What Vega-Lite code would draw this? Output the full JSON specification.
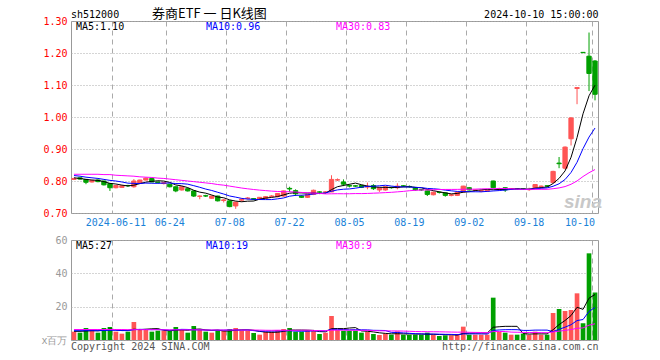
{
  "$schema": "https://vega.github.io/schema/vega-lite/v6.json",
  "background": "white",
  "padding": {"left": 40, "top": 7, "right": 5, "bottom": 0},
  "spacing": 6,
  "config": {
    "view": {"stroke": "#999999", "strokeWidth": 1},
    "font": "DejaVu Sans Mono",
    "axis": {"labelFont": "DejaVu Sans Mono", "labelFontSize": 10, "ticks": false, "domain": false, "title": null, "gridColor": "#aaaaaa", "gridWidth": 1, "labelOverlap": false, "labelBound": false},
    "text": {"font": "DejaVu Sans Mono", "fontSize": 10}
  },
  "data": {"values": [
    {"d":"2024-05-30","o":0.805,"h":0.810,"l":0.803,"c":0.808,"v":5.0,"m5":0.810,"m10":0.817,"m30":0.821,"vm5":5.2,"vm10":5.6,"vm30":6.3},
    {"d":"2024-05-31","o":0.810,"h":0.811,"l":0.804,"c":0.806,"v":4.4,"m5":0.808,"m10":0.815,"m30":0.821,"vm5":5.2,"vm10":5.6,"vm30":6.3},
    {"d":"2024-06-03","o":0.805,"h":0.806,"l":0.790,"c":0.796,"v":7.2,"m5":0.805,"m10":0.812,"m30":0.821,"vm5":5.4,"vm10":5.6,"vm30":6.3},
    {"d":"2024-06-04","o":0.797,"h":0.803,"l":0.795,"c":0.802,"v":6.4,"m5":0.803,"m10":0.810,"m30":0.821,"vm5":5.6,"vm10":5.6,"vm30":6.3},
    {"d":"2024-06-05","o":0.803,"h":0.805,"l":0.796,"c":0.798,"v":4.4,"m5":0.802,"m10":0.808,"m30":0.821,"vm5":5.48,"vm10":5.6,"vm30":6.3},
    {"d":"2024-06-06","o":0.800,"h":0.801,"l":0.786,"c":0.788,"v":7.2,"m5":0.798,"m10":0.805,"m30":0.820,"vm5":5.92,"vm10":5.7,"vm30":6.3},
    {"d":"2024-06-07","o":0.792,"h":0.793,"l":0.769,"c":0.779,"v":7.8,"m5":0.7926,"m10":0.802,"m30":0.820,"vm5":6.6,"vm10":5.8,"vm30":6.3},
    {"d":"2024-06-11","o":0.779,"h":0.787,"l":0.777,"c":0.786,"v":5.0,"m5":0.7906,"m10":0.800,"m30":0.818,"vm5":6.16,"vm10":5.8,"vm30":6.3},
    {"d":"2024-06-12","o":0.780,"h":0.786,"l":0.778,"c":0.785,"v":3.8,"m5":0.7872,"m10":0.797,"m30":0.817,"vm5":5.64,"vm10":5.7,"vm30":6.3},
    {"d":"2024-06-13","o":0.786,"h":0.788,"l":0.782,"c":0.785,"v":5.0,"m5":0.7846,"m10":0.7933,"m30":0.816,"vm5":5.76,"vm10":5.62,"vm30":6.2},
    {"d":"2024-06-14","o":0.782,"h":0.806,"l":0.779,"c":0.800,"v":10.8,"m5":0.787,"m10":0.7925,"m30":0.815,"vm5":6.48,"vm10":6.2,"vm30":6.2},
    {"d":"2024-06-17","o":0.793,"h":0.804,"l":0.791,"c":0.803,"v":6.4,"m5":0.7918,"m10":0.7922,"m30":0.813,"vm5":6.2,"vm10":6.4,"vm30":6.2},
    {"d":"2024-06-18","o":0.803,"h":0.811,"l":0.802,"c":0.809,"v":6.4,"m5":0.7964,"m10":0.7935,"m30":0.812,"vm5":6.48,"vm10":6.32,"vm30":6.2},
    {"d":"2024-06-19","o":0.808,"h":0.810,"l":0.796,"c":0.797,"v":5.0,"m5":0.7988,"m10":0.793,"m30":0.811,"vm5":6.72,"vm10":6.18,"vm30":6.2},
    {"d":"2024-06-20","o":0.797,"h":0.798,"l":0.793,"c":0.795,"v":5.6,"m5":0.8008,"m10":0.7927,"m30":0.809,"vm5":6.84,"vm10":6.3,"vm30":6.2},
    {"d":"2024-06-21","o":0.792,"h":0.797,"l":0.789,"c":0.795,"v":5.4,"m5":0.7998,"m10":0.7934,"m30":0.808,"vm5":5.76,"vm10":6.12,"vm30":6.1},
    {"d":"2024-06-24","o":0.790,"h":0.791,"l":0.780,"c":0.782,"v":5.4,"m5":0.7956,"m10":0.7937,"m30":0.806,"vm5":5.56,"vm10":5.88,"vm30":6.1},
    {"d":"2024-06-25","o":0.782,"h":0.783,"l":0.765,"c":0.769,"v":7.8,"m5":0.7876,"m10":0.792,"m30":0.804,"vm5":5.84,"vm10":6.16,"vm30":6.1},
    {"d":"2024-06-26","o":0.772,"h":0.783,"l":0.770,"c":0.782,"v":6.0,"m5":0.7846,"m10":0.7917,"m30":0.802,"vm5":6.04,"vm10":6.38,"vm30":6.1},
    {"d":"2024-06-27","o":0.776,"h":0.778,"l":0.767,"c":0.769,"v":4.4,"m5":0.7794,"m10":0.7901,"m30":0.800,"vm5":5.8,"vm10":6.32,"vm30":6.1},
    {"d":"2024-06-28","o":0.769,"h":0.770,"l":0.750,"c":0.753,"v":8.4,"m5":0.771,"m10":0.7854,"m30":0.798,"vm5":6.4,"vm10":6.08,"vm30":6.1},
    {"d":"2024-07-01","o":0.752,"h":0.755,"l":0.743,"c":0.753,"v":6.4,"m5":0.7652,"m10":0.7804,"m30":0.796,"vm5":6.6,"vm10":6.08,"vm30":6.1},
    {"d":"2024-07-02","o":0.754,"h":0.757,"l":0.750,"c":0.753,"v":5.0,"m5":0.762,"m10":0.7748,"m30":0.794,"vm5":6.04,"vm10":5.94,"vm30":6.0},
    {"d":"2024-07-03","o":0.746,"h":0.754,"l":0.744,"c":0.753,"v":4.4,"m5":0.7562,"m10":0.7704,"m30":0.792,"vm5":5.72,"vm10":5.88,"vm30":6.0},
    {"d":"2024-07-04","o":0.753,"h":0.754,"l":0.736,"c":0.738,"v":5.6,"m5":0.750,"m10":0.7647,"m30":0.789,"vm5":5.96,"vm10":5.88,"vm30":6.0},
    {"d":"2024-07-05","o":0.739,"h":0.744,"l":0.733,"c":0.741,"v":5.6,"m5":0.7476,"m10":0.7593,"m30":0.787,"vm5":5.4,"vm10":5.9,"vm30":6.0},
    {"d":"2024-07-08","o":0.738,"h":0.739,"l":0.718,"c":0.720,"v":6.6,"m5":0.741,"m10":0.7531,"m30":0.784,"vm5":5.44,"vm10":6.02,"vm30":6.0},
    {"d":"2024-07-09","o":0.722,"h":0.735,"l":0.713,"c":0.734,"v":7.2,"m5":0.7372,"m10":0.7496,"m30":0.781,"vm5":5.88,"vm10":5.96,"vm30":6.0},
    {"d":"2024-07-10","o":0.740,"h":0.746,"l":0.735,"c":0.743,"v":5.6,"m5":0.7352,"m10":0.7457,"m30":0.778,"vm5":6.12,"vm10":5.92,"vm30":6.0},
    {"d":"2024-07-11","o":0.745,"h":0.750,"l":0.742,"c":0.747,"v":5.6,"m5":0.737,"m10":0.7435,"m30":0.7756,"vm5":6.12,"vm10":6.04,"vm30":5.99},
    {"d":"2024-07-12","o":0.745,"h":0.746,"l":0.740,"c":0.743,"v":4.2,"m5":0.7374,"m10":0.7425,"m30":0.7734,"vm5":5.84,"vm10":5.62,"vm30":5.97},
    {"d":"2024-07-15","o":0.743,"h":0.750,"l":0.741,"c":0.749,"v":3.2,"m5":0.7432,"m10":0.7421,"m30":0.7715,"vm5":5.16,"vm10":5.3,"vm30":5.93},
    {"d":"2024-07-16","o":0.746,"h":0.753,"l":0.744,"c":0.751,"v":5.0,"m5":0.7466,"m10":0.7419,"m30":0.770,"vm5":4.72,"vm10":5.3,"vm30":5.85},
    {"d":"2024-07-17","o":0.752,"h":0.756,"l":0.749,"c":0.753,"v":5.0,"m5":0.7486,"m10":0.7419,"m30":0.7684,"vm5":4.6,"vm10":5.36,"vm30":5.81},
    {"d":"2024-07-18","o":0.751,"h":0.762,"l":0.749,"c":0.761,"v":6.0,"m5":0.7514,"m10":0.7442,"m30":0.7672,"vm5":4.68,"vm10":5.4,"vm30":5.86},
    {"d":"2024-07-19","o":0.753,"h":0.770,"l":0.751,"c":0.769,"v":6.6,"m5":0.7566,"m10":0.747,"m30":0.7665,"vm5":5.16,"vm10":5.5,"vm30":5.84},
    {"d":"2024-07-22","o":0.777,"h":0.782,"l":0.766,"c":0.775,"v":7.2,"m5":0.7618,"m10":0.7525,"m30":0.7664,"vm5":5.96,"vm10":5.56,"vm30":5.82},
    {"d":"2024-07-23","o":0.770,"h":0.774,"l":0.753,"c":0.760,"v":5.0,"m5":0.7636,"m10":0.7551,"m30":0.7655,"vm5":5.96,"vm10":5.34,"vm30":5.82},
    {"d":"2024-07-24","o":0.753,"h":0.755,"l":0.747,"c":0.749,"v":5.0,"m5":0.7628,"m10":0.7557,"m30":0.7643,"vm5":5.96,"vm10":5.28,"vm30":5.86},
    {"d":"2024-07-25","o":0.749,"h":0.759,"l":0.747,"c":0.758,"v":5.6,"m5":0.7622,"m10":0.7568,"m30":0.7634,"vm5":5.88,"vm10":5.28,"vm30":5.88},
    {"d":"2024-07-26","o":0.758,"h":0.773,"l":0.756,"c":0.771,"v":6.0,"m5":0.7626,"m10":0.7596,"m30":0.7624,"vm5":5.76,"vm10":5.46,"vm30":5.72},
    {"d":"2024-07-29","o":0.766,"h":0.768,"l":0.762,"c":0.765,"v":3.6,"m5":0.7606,"m10":0.7612,"m30":0.7612,"vm5":5.04,"vm10":5.5,"vm30":5.63},
    {"d":"2024-07-30","o":0.765,"h":0.768,"l":0.762,"c":0.766,"v":4.4,"m5":0.7618,"m10":0.7627,"m30":0.7597,"vm5":4.92,"vm10":5.44,"vm30":5.56},
    {"d":"2024-07-31","o":0.766,"h":0.818,"l":0.765,"c":0.805,"v":14.4,"m5":0.773,"m10":0.7679,"m30":0.760,"vm5":6.8,"vm10":6.38,"vm30":5.87},
    {"d":"2024-08-01","o":0.803,"h":0.808,"l":0.800,"c":0.804,"v":6.0,"m5":0.7822,"m10":0.7722,"m30":0.7603,"vm5":6.88,"vm10":6.38,"vm30":5.89},
    {"d":"2024-08-02","o":0.797,"h":0.805,"l":0.784,"c":0.790,"v":5.6,"m5":0.786,"m10":0.7743,"m30":0.7601,"vm5":6.8,"vm10":6.28,"vm30":5.90},
    {"d":"2024-08-05","o":0.786,"h":0.789,"l":0.780,"c":0.784,"v":5.6,"m5":0.7898,"m10":0.7752,"m30":0.7602,"vm5":7.2,"vm10":6.12,"vm30":5.90},
    {"d":"2024-08-06","o":0.785,"h":0.787,"l":0.781,"c":0.784,"v":5.6,"m5":0.7934,"m10":0.7776,"m30":0.7607,"vm5":7.44,"vm10":6.18,"vm30":5.83},
    {"d":"2024-08-07","o":0.786,"h":0.788,"l":0.778,"c":0.780,"v":4.4,"m5":0.7884,"m10":0.7807,"m30":0.7606,"vm5":5.44,"vm10":6.12,"vm30":5.78},
    {"d":"2024-08-08","o":0.781,"h":0.795,"l":0.774,"c":0.783,"v":5.0,"m5":0.7842,"m10":0.7832,"m30":0.7611,"vm5":5.24,"vm10":6.06,"vm30":5.80},
    {"d":"2024-08-09","o":0.786,"h":0.790,"l":0.772,"c":0.776,"v":3.6,"m5":0.7814,"m10":0.7837,"m30":0.7619,"vm5":4.84,"vm10":5.82,"vm30":5.64},
    {"d":"2024-08-12","o":0.772,"h":0.780,"l":0.766,"c":0.779,"v":3.0,"m5":0.7804,"m10":0.7851,"m30":0.7627,"vm5":4.32,"vm10":5.76,"vm30":5.52},
    {"d":"2024-08-13","o":0.772,"h":0.783,"l":0.770,"c":0.782,"v":3.8,"m5":0.780,"m10":0.7867,"m30":0.7637,"vm5":3.96,"vm10":5.7,"vm30":5.48},
    {"d":"2024-08-14","o":0.780,"h":0.782,"l":0.776,"c":0.779,"v":3.2,"m5":0.7798,"m10":0.7841,"m30":0.7646,"vm5":3.72,"vm10":4.58,"vm30":5.44},
    {"d":"2024-08-15","o":0.779,"h":0.793,"l":0.774,"c":0.784,"v":5.2,"m5":0.780,"m10":0.7821,"m30":0.7661,"vm5":3.76,"vm10":4.5,"vm30":5.43},
    {"d":"2024-08-16","o":0.785,"h":0.787,"l":0.781,"c":0.784,"v":3.2,"m5":0.7816,"m10":0.7815,"m30":0.7675,"vm5":3.68,"vm10":4.26,"vm30":5.35},
    {"d":"2024-08-19","o":0.783,"h":0.786,"l":0.779,"c":0.782,"v":3.2,"m5":0.7822,"m10":0.7813,"m30":0.7696,"vm5":3.72,"vm10":4.02,"vm30":5.24},
    {"d":"2024-08-20","o":0.779,"h":0.780,"l":0.770,"c":0.772,"v":3.2,"m5":0.7802,"m10":0.7801,"m30":0.7709,"vm5":3.6,"vm10":3.78,"vm30":5.10},
    {"d":"2024-08-21","o":0.773,"h":0.775,"l":0.769,"c":0.772,"v":3.2,"m5":0.7788,"m10":0.7793,"m30":0.7718,"vm5":3.6,"vm10":3.66,"vm30":5.02},
    {"d":"2024-08-22","o":0.769,"h":0.770,"l":0.753,"c":0.758,"v":4.4,"m5":0.7736,"m10":0.7768,"m30":0.7722,"vm5":3.44,"vm10":3.6,"vm30":4.98},
    {"d":"2024-08-23","o":0.757,"h":0.767,"l":0.755,"c":0.765,"v":3.2,"m5":0.7698,"m10":0.7757,"m30":0.7729,"vm5":3.44,"vm10":3.56,"vm30":4.95},
    {"d":"2024-08-26","o":0.765,"h":0.767,"l":0.761,"c":0.764,"v":2.4,"m5":0.7662,"m10":0.7742,"m30":0.7734,"vm5":3.28,"vm10":3.5,"vm30":4.92},
    {"d":"2024-08-27","o":0.763,"h":0.764,"l":0.751,"c":0.755,"v":2.8,"m5":0.7628,"m10":0.7715,"m30":0.7736,"vm5":3.2,"vm10":3.4,"vm30":4.85},
    {"d":"2024-08-28","o":0.755,"h":0.759,"l":0.752,"c":0.757,"v":2.8,"m5":0.7598,"m10":0.7693,"m30":0.7737,"vm5":3.12,"vm10":3.36,"vm30":4.78},
    {"d":"2024-08-29","o":0.755,"h":0.766,"l":0.753,"c":0.765,"v":3.6,"m5":0.7612,"m10":0.7674,"m30":0.7738,"vm5":2.96,"vm10":3.2,"vm30":4.70},
    {"d":"2024-08-30","o":0.766,"h":0.785,"l":0.764,"c":0.784,"v":8.0,"m5":0.765,"m10":0.7674,"m30":0.7743,"vm5":3.92,"vm10":3.68,"vm30":4.75},
    {"d":"2024-09-02","o":0.779,"h":0.781,"l":0.770,"c":0.772,"v":3.2,"m5":0.7666,"m10":0.7664,"m30":0.7742,"vm5":4.08,"vm10":3.68,"vm30":4.61},
    {"d":"2024-09-03","o":0.771,"h":0.774,"l":0.768,"c":0.772,"v":3.2,"m5":0.770,"m10":0.7664,"m30":0.7746,"vm5":4.16,"vm10":3.68,"vm30":4.55},
    {"d":"2024-09-04","o":0.768,"h":0.772,"l":0.765,"c":0.770,"v":3.2,"m5":0.7726,"m10":0.7662,"m30":0.7753,"vm5":4.24,"vm10":3.68,"vm30":4.49},
    {"d":"2024-09-05","o":0.768,"h":0.773,"l":0.766,"c":0.771,"v":3.2,"m5":0.7738,"m10":0.7675,"m30":0.7757,"vm5":4.16,"vm10":3.56,"vm30":4.41},
    {"d":"2024-09-06","o":0.800,"h":0.801,"l":0.777,"c":0.779,"v":25.4,"m5":0.7728,"m10":0.7689,"m30":0.776,"vm5":7.64,"vm10":5.78,"vm30":5.06},
    {"d":"2024-09-09","o":0.775,"h":0.779,"l":0.771,"c":0.776,"v":4.8,"m5":0.7736,"m10":0.7701,"m30":0.7764,"vm5":7.96,"vm10":6.02,"vm30":5.10},
    {"d":"2024-09-10","o":0.779,"h":0.780,"l":0.766,"c":0.772,"v":4.4,"m5":0.7736,"m10":0.7718,"m30":0.7766,"vm5":8.2,"vm10":6.18,"vm30":5.10},
    {"d":"2024-09-11","o":0.775,"h":0.778,"l":0.773,"c":0.776,"v":3.2,"m5":0.7748,"m10":0.7737,"m30":0.7756,"vm5":8.2,"vm10":6.22,"vm30":4.73},
    {"d":"2024-09-12","o":0.776,"h":0.777,"l":0.773,"c":0.775,"v":3.2,"m5":0.7756,"m10":0.7747,"m30":0.7746,"vm5":8.2,"vm10":6.18,"vm30":4.64},
    {"d":"2024-09-13","o":0.776,"h":0.777,"l":0.772,"c":0.775,"v":3.8,"m5":0.7748,"m10":0.7738,"m30":0.7741,"vm5":3.88,"vm10":5.76,"vm30":4.58},
    {"d":"2024-09-18","o":0.773,"h":0.779,"l":0.769,"c":0.774,"v":3.2,"m5":0.7744,"m10":0.774,"m30":0.7738,"vm5":3.56,"vm10":5.76,"vm30":4.50},
    {"d":"2024-09-19","o":0.779,"h":0.790,"l":0.777,"c":0.789,"v":5.0,"m5":0.7778,"m10":0.7757,"m30":0.774,"vm5":3.68,"vm10":5.94,"vm30":4.48},
    {"d":"2024-09-20","o":0.783,"h":0.786,"l":0.781,"c":0.784,"v":3.2,"m5":0.7794,"m10":0.7771,"m30":0.7741,"vm5":3.68,"vm10":5.94,"vm30":4.44},
    {"d":"2024-09-23","o":0.785,"h":0.787,"l":0.782,"c":0.784,"v":3.2,"m5":0.7812,"m10":0.7784,"m30":0.7741,"vm5":3.68,"vm10":5.94,"vm30":4.38},
    {"d":"2024-09-24","o":0.795,"h":0.832,"l":0.793,"c":0.830,"v":16.2,"m5":0.7922,"m10":0.7835,"m30":0.7759,"vm5":6.16,"vm10":5.02,"vm30":4.80},
    {"d":"2024-09-25","o":0.856,"h":0.875,"l":0.840,"c":0.854,"v":18.6,"m5":0.8082,"m10":0.7913,"m30":0.7784,"vm5":9.24,"vm10":6.4,"vm30":5.32},
    {"d":"2024-09-26","o":0.840,"h":0.908,"l":0.836,"c":0.906,"v":17.4,"m5":0.8316,"m10":0.8047,"m30":0.7826,"vm5":11.72,"vm10":7.7,"vm30":5.77},
    {"d":"2024-09-27","o":0.932,"h":1.000,"l":0.911,"c":0.997,"v":18.0,"m5":0.8742,"m10":0.8268,"m30":0.7898,"vm5":14.68,"vm10":9.18,"vm30":6.27},
    {"d":"2024-09-30","o":1.089,"h":1.092,"l":1.040,"c":1.092,"v":28.0,"m5":0.9358,"m10":0.8585,"m30":0.8001,"vm5":19.64,"vm10":11.66,"vm30":7.03},
    {"d":"2024-10-08","o":1.202,"h":1.202,"l":1.201,"c":1.201,"v":10.0,"m5":1.010,"m10":0.9011,"m30":0.814,"vm5":18.4,"vm10":12.28,"vm30":7.25},
    {"d":"2024-10-09","o":1.190,"h":1.264,"l":1.081,"c":1.136,"v":52.0,"m5":1.0664,"m10":0.9373,"m30":0.8258,"vm5":25.08,"vm10":17.16,"vm30":8.88},
    {"d":"2024-10-10","o":1.175,"h":1.178,"l":1.052,"c":1.071,"v":28.5,"m5":1.0994,"m10":0.9655,"m30":0.8358,"vm5":27.3,"vm10":19.51,"vm30":9.72}
  ]},
  "vconcat": [
    {
      "width": 527,
      "height": 192,
      "encoding": {
        "x": {
          "field": "d", "type": "ordinal",
          "scale": {"type": "band", "paddingInner": 0, "paddingOuter": 0},
          "axis": {
            "values": ["2024-06-11","2024-06-24","2024-07-08","2024-07-22","2024-08-05","2024-08-19","2024-09-02","2024-09-18","2024-10-10"],
            "labelExpr": "datum.value == '2024-06-11' ? datum.value : slice(datum.value, 5)",
            "labelAlign": {"condition": {"test": "datum.value == '2024-10-10'", "value": "right"}, "value": "center"},
            "labelAngle": 0, "bandPosition": 0,
            "grid": true, "gridDash": [5, 4],
            "labelColor": "#1a82d8", "labelPadding": 4
          }
        }
      },
      "layer": [
        {
          "mark": {"type": "rule", "strokeWidth": 1},
          "encoding": {
            "y": {"field": "l", "type": "quantitative",
                  "scale": {"domain": [0.7, 1.3], "nice": false, "zero": false},
                  "axis": {"values": [0.7, 0.8, 0.9, 1.0, 1.1, 1.2, 1.3], "tickCount": 20, "format": ".2f", "labelColor": "#ff0000", "grid": true, "gridDash": [1, 2], "labelPadding": 4, "minExtent": 30}},
            "y2": {"field": "h"},
            "color": {"condition": {"test": "datum.c >= datum.o", "value": "#ff5555"}, "value": "#00a000"}
          }
        },
        {
          "mark": {"type": "bar", "width": {"band": 0.72}, "strokeWidth": 1},
          "encoding": {
            "y": {"field": "o", "type": "quantitative"},
            "y2": {"field": "c"},
            "color": {"condition": {"test": "datum.c >= datum.o", "value": "#ff5555"}, "value": "#00a000"},
            "stroke": {"condition": {"test": "datum.c >= datum.o", "value": "#ff5555"}, "value": "#00a000"}
          }
        },
        {"mark": {"type": "line", "color": "#000000", "strokeWidth": 1}, "encoding": {"y": {"field": "m5", "type": "quantitative"}}},
        {"mark": {"type": "line", "color": "#0000ff", "strokeWidth": 1}, "encoding": {"y": {"field": "m10", "type": "quantitative"}}},
        {"mark": {"type": "line", "color": "#ff00ff", "strokeWidth": 1}, "encoding": {"y": {"field": "m30", "type": "quantitative"}}},
        {
          "data": {"values": [{}]},
          "mark": {"type": "text", "align": "left", "baseline": "middle", "dx": 2, "dy": 6, "color": "#000000"},
          "encoding": {"x": {"datum": "2024-05-30", "type": "ordinal"}, "y": {"datum": 1.3, "type": "quantitative"}, "text": {"value": "MA5:1.10"}}
        },
        {
          "data": {"values": [{}]},
          "mark": {"type": "text", "align": "left", "baseline": "middle", "dx": 132, "dy": 6, "color": "#0000ff"},
          "encoding": {"x": {"datum": "2024-05-30", "type": "ordinal"}, "y": {"datum": 1.3, "type": "quantitative"}, "text": {"value": "MA10:0.96"}}
        },
        {
          "data": {"values": [{}]},
          "mark": {"type": "text", "align": "left", "baseline": "middle", "dx": 262, "dy": 6, "color": "#ff00ff"},
          "encoding": {"x": {"datum": "2024-05-30", "type": "ordinal"}, "y": {"datum": 1.3, "type": "quantitative"}, "text": {"value": "MA30:0.83"}}
        },
        {
          "data": {"values": [{}]},
          "mark": {"type": "text", "align": "left", "baseline": "alphabetic", "dx": -3, "dy": -3.5, "color": "#000000"},
          "encoding": {"x": {"datum": "2024-05-30", "type": "ordinal"}, "y": {"datum": 1.3, "type": "quantitative"}, "text": {"value": "sh512000"}}
        },
        {
          "data": {"values": [{}]},
          "mark": {"type": "text", "align": "left", "baseline": "alphabetic", "dx": 78, "dy": -3, "color": "#000000", "font": "Noto Sans CJK SC", "fontSize": 13},
          "encoding": {"x": {"datum": "2024-05-30", "type": "ordinal"}, "y": {"datum": 1.3, "type": "quantitative"}, "text": {"value": "券商ETF 一 日K线图"}}
        },
        {
          "data": {"values": [{}]},
          "mark": {"type": "text", "align": "right", "baseline": "alphabetic", "dx": 3.5, "dy": -3.5, "color": "#000000"},
          "encoding": {"x": {"datum": "2024-10-10", "type": "ordinal"}, "y": {"datum": 1.3, "type": "quantitative"}, "text": {"value": "2024-10-10 15:00:00"}}
        },
        {
          "data": {"values": [{}]},
          "mark": {"type": "text", "align": "center", "baseline": "middle", "color": "#c8c8c8", "font": "Liberation Sans", "fontSize": 19, "fontWeight": "bold", "fontStyle": "italic"},
          "encoding": {"x": {"datum": "2024-10-08", "type": "ordinal"}, "y": {"datum": 0.735, "type": "quantitative"}, "text": {"value": "sina"}}
        }
      ]
    },
    {
      "width": 527,
      "height": 100,
      "encoding": {
        "x": {
          "field": "d", "type": "ordinal",
          "scale": {"type": "band", "paddingInner": 0, "paddingOuter": 0},
          "axis": {
            "values": ["2024-06-11","2024-06-24","2024-07-08","2024-07-22","2024-08-05","2024-08-19","2024-09-02","2024-09-18","2024-10-10"],
            "labels": false, "bandPosition": 0, "grid": true, "gridDash": [5, 4]
          }
        }
      },
      "layer": [
        {
          "mark": {"type": "bar", "width": {"band": 0.78}},
          "encoding": {
            "y": {"field": "v", "type": "quantitative",
                  "scale": {"domain": [0, 60], "nice": false},
                  "axis": {"values": [0, 20, 40, 60], "tickCount": 20, "labelExpr": "datum.value == 0 ? 'x百万' : datum.label", "labelColor": "#999999", "grid": true, "gridDash": [1, 2], "labelPadding": 4, "minExtent": 30}},
            "color": {"condition": {"test": "datum.c >= datum.o", "value": "#ff5555"}, "value": "#00a000"}
          }
        },
        {"mark": {"type": "line", "color": "#000000", "strokeWidth": 1}, "encoding": {"y": {"field": "vm5", "type": "quantitative"}}},
        {"mark": {"type": "line", "color": "#0000ff", "strokeWidth": 1}, "encoding": {"y": {"field": "vm10", "type": "quantitative"}}},
        {"mark": {"type": "line", "color": "#ff00ff", "strokeWidth": 1}, "encoding": {"y": {"field": "vm30", "type": "quantitative"}}},
        {
          "data": {"values": [{}]},
          "mark": {"type": "text", "align": "left", "baseline": "middle", "dx": 2, "dy": 6, "color": "#000000"},
          "encoding": {"x": {"datum": "2024-05-30", "type": "ordinal"}, "y": {"datum": 60, "type": "quantitative"}, "text": {"value": "MA5:27"}}
        },
        {
          "data": {"values": [{}]},
          "mark": {"type": "text", "align": "left", "baseline": "middle", "dx": 132, "dy": 6, "color": "#0000ff"},
          "encoding": {"x": {"datum": "2024-05-30", "type": "ordinal"}, "y": {"datum": 60, "type": "quantitative"}, "text": {"value": "MA10:19"}}
        },
        {
          "data": {"values": [{}]},
          "mark": {"type": "text", "align": "left", "baseline": "middle", "dx": 262, "dy": 6, "color": "#ff00ff"},
          "encoding": {"x": {"datum": "2024-05-30", "type": "ordinal"}, "y": {"datum": 60, "type": "quantitative"}, "text": {"value": "MA30:9"}}
        },
        {
          "data": {"values": [{}]},
          "mark": {"type": "text", "align": "left", "baseline": "middle", "dx": -3, "dy": 6.5, "color": "#555555"},
          "encoding": {"x": {"datum": "2024-05-30", "type": "ordinal"}, "y": {"datum": 0, "type": "quantitative"}, "text": {"value": "Copyright 2024 SINA.COM"}}
        },
        {
          "data": {"values": [{}]},
          "mark": {"type": "text", "align": "right", "baseline": "middle", "dx": 3.5, "dy": 6.5, "color": "#555555"},
          "encoding": {"x": {"datum": "2024-10-10", "type": "ordinal"}, "y": {"datum": 0, "type": "quantitative"}, "text": {"value": "http://finance.sina.com.cn"}}
        }
      ]
    }
  ]
}
